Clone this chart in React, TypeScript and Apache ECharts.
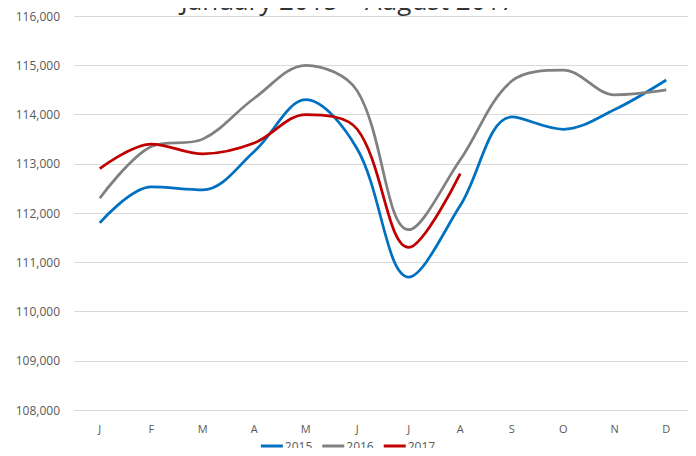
import React, { useEffect, useRef } from "react";
import * as echarts from "echarts";

const months = ["J", "F", "M", "A", "M", "J", "J", "A", "S", "O", "N", "D"];
const s2015 = [111800, 112530, 112470, 113250, 114300, 113300, 110700, 112150, 113950, 113700, 114100, 114700];
const s2016 = [112300, 113350, 113500, 114330, 115000, 114480, 111660, 113080, 114680, 114900, 114400, 114500];
const s2017 = [112900, 113400, 113200, 113420, 114000, 113700, 111300, 112800];
const seriesNames = ["2015", "2016", "2017"];
const colors = ["#0070C0", "#808080", "#C00000"];
const titleText = "January 2015 \u2013 August 2017";

export default function App() {
  const ref = useRef<HTMLDivElement>(null);
  useEffect(() => {
    if (!ref.current) return;
    const chart = echarts.init(ref.current, null, { renderer: "svg" });
    const font = "'Open Sans', 'Liberation Sans', sans-serif";
    const data = [s2015, s2016, s2017];
    chart.setOption({
      animation: false,
      backgroundColor: "#fff",
      graphic: [
        {
          type: "text",
          left: "center",
          top: -13,
          z: 100,
          style: { text: titleText, font: `26px ${font}`, fill: "#333333" },
        },
      ],
      legend: {
        bottom: 4,
        left: "center",
        padding: 0,
        itemWidth: 22,
        itemHeight: 3,
        itemGap: 10,
        icon: "rect",
        textStyle: { color: "#595959", fontSize: 12, fontFamily: font, padding: [0, 0, 0, -3] },
        data: seriesNames,
      },
      grid: { left: 74, right: 4, top: 16, bottom: 46 },
      xAxis: {
        type: "category",
        data: months,
        boundaryGap: true,
        axisLine: { show: true, lineStyle: { color: "#d9d9d9" } },
        axisTick: { show: false },
        axisLabel: { color: "#595959", fontSize: 11, fontFamily: font, margin: 13 },
      },
      yAxis: {
        type: "value",
        min: 108000,
        max: 116000,
        interval: 1000,
        axisLine: { show: false },
        axisTick: { show: false },
        splitLine: { lineStyle: { color: "#d9d9d9" } },
        axisLabel: {
          color: "#595959",
          fontSize: 12,
          fontFamily: font,
          margin: 14,
          formatter: (v: number) => v.toLocaleString("en-US"),
        },
      },
      series: data.map((d, i) => ({
        name: seriesNames[i],
        type: "line",
        data: d,
        smooth: 0.35,
        symbol: "none",
        lineStyle: { color: colors[i], width: 2.75 },
        itemStyle: { color: colors[i] },
      })),
    });
    return () => chart.dispose();
  }, []);
  return <div ref={ref} style={{ width: 696, height: 456, margin: -8 }} />;
}
